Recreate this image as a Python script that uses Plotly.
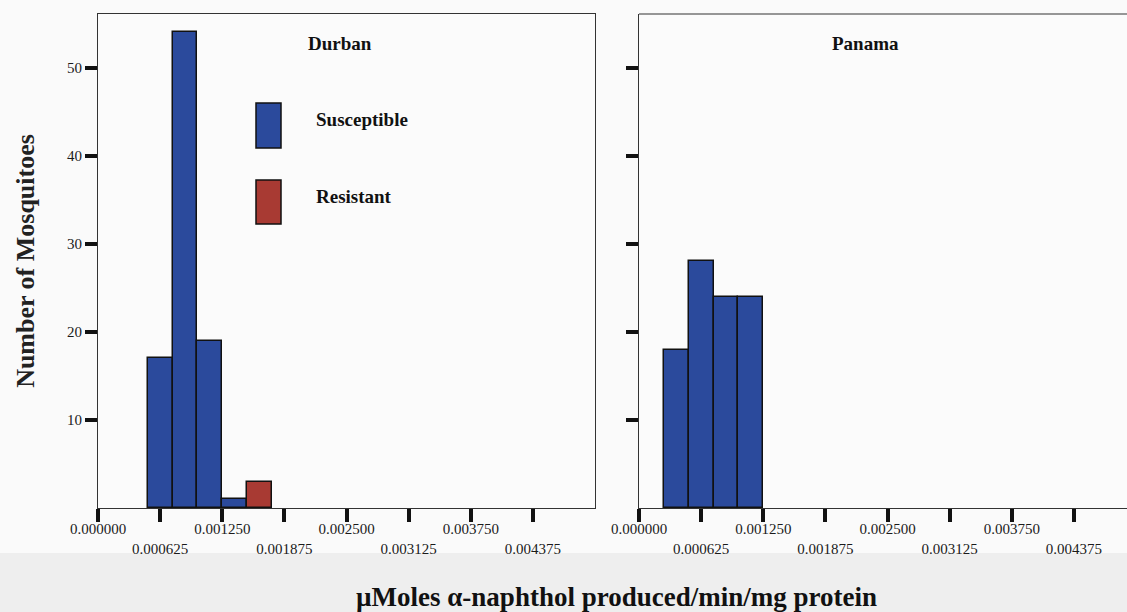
import plotly.graph_objects as go

# ---- data ----
bin_width = 0.00025
durban_susc_edges = [0.0005, 0.00075, 0.001, 0.00125]
durban_susc_counts = [17, 54, 19, 1]
durban_res_edges = [0.0015]
durban_res_counts = [3]
panama_susc_edges = [0.00025, 0.0005, 0.00075, 0.001]
panama_susc_counts = [18, 28, 24, 24]

x_tick_vals = [0.0, 0.000625, 0.00125, 0.001875, 0.0025, 0.003125, 0.00375, 0.004375]
x_tick_text = ["0.000000", "0.000625", "0.001250", "0.001875",
               "0.002500", "0.003125", "0.003750", "0.004375"]
y_tick_vals = [10, 20, 30, 40, 50]
panel_titles = ["Durban", "Panama"]
legend_labels = ["Susceptible", "Resistant"]

BLUE = "#2b4a9c"
RED = "#a83a33"
FONT = "Liberation Serif"

W, H = 1127, 612
def px(x):
    return x / W
def py(y):
    return 1 - y / H

staggered = [t if i % 2 == 0 else "<br>" + t for i, t in enumerate(x_tick_text)]

fig = go.Figure()

def centers(edges):
    return [e + bin_width / 2 for e in edges]

bar_line = dict(color="#111111", width=1.5)
fig.add_trace(go.Bar(x=centers(durban_susc_edges), y=durban_susc_counts, width=bin_width,
                     marker=dict(color=BLUE, line=bar_line), xaxis="x", yaxis="y",
                     name=legend_labels[0], showlegend=False))
fig.add_trace(go.Bar(x=centers(durban_res_edges), y=durban_res_counts, width=bin_width,
                     marker=dict(color=RED, line=bar_line), xaxis="x", yaxis="y",
                     name=legend_labels[1], showlegend=False))
fig.add_trace(go.Bar(x=centers(panama_susc_edges), y=panama_susc_counts, width=bin_width,
                     marker=dict(color=BLUE, line=bar_line), xaxis="x2", yaxis="y2",
                     name=legend_labels[0], showlegend=False))

y_dom = [py(508), py(14)]
xcommon = dict(tickvals=x_tick_vals, ticktext=staggered, ticks="outside", ticklen=13,
               tickwidth=4, tickcolor="#111111", showgrid=False, zeroline=False,
               showline=True, linecolor="#333333", linewidth=1, automargin=False,
               ticklabelstandoff=-6,
               tickfont=dict(family=FONT, size=15, color="#1a1a1a"), fixedrange=True)
fig.update_layout(
    width=W, height=H, margin=dict(l=0, r=0, t=0, b=0, autoexpand=False),
    paper_bgcolor="#fafafa", plot_bgcolor="#fbfbfb",
    barmode="overlay", bargap=0,
    xaxis=dict(domain=[px(98), px(595)], range=[0, 0.005], mirror=True, anchor="y", **xcommon),
    xaxis2=dict(domain=[px(639), 1.0], range=[0, 0.005 * (W - 639) / (595 - 98)],
                mirror=False, anchor="y2", **xcommon),
    yaxis=dict(domain=y_dom, range=[0, 56.1], tickvals=y_tick_vals, ticks="outside",
               ticklen=12, tickwidth=4, tickcolor="#111111", showgrid=False, zeroline=False,
               showline=True, mirror=True, linecolor="#333333", linewidth=1, anchor="x",
               automargin=False,
               tickfont=dict(family=FONT, size=15, color="#1a1a1a"),
               title=dict(text="<b>Number of Mosquitoes</b>", standoff=24,
                          font=dict(family=FONT, size=26, color="#222222")),
               fixedrange=True),
    yaxis2=dict(domain=y_dom, range=[0, 56.1], tickvals=y_tick_vals, ticks="outside",
                ticklen=12, tickwidth=4, tickcolor="#111111", showticklabels=False,
                showgrid=False, zeroline=False, showline=True, mirror=False, automargin=False,
                linecolor="#333333", linewidth=1, anchor="x2", fixedrange=True),
    showlegend=False,
)

# top frame line of Panama panel (right edge cut off)
fig.add_shape(type="line", xref="paper", yref="paper", x0=px(639), x1=1.0,
              y0=py(14), y1=py(14), line=dict(color="#333333", width=1))
# grey band at bottom
fig.add_shape(type="rect", xref="paper", yref="paper", x0=0, x1=1, y0=0, y1=py(553),
              fillcolor="#eeeeee", line=dict(width=0), layer="below")

def label(x, y, text, size, xanchor="center"):
    fig.add_annotation(x=px(x), y=py(y), xref="paper", yref="paper", xanchor=xanchor,
                       yanchor="middle", text="<b>" + text + "</b>", showarrow=False,
                       font=dict(family=FONT, size=size, color="#111111"))

# panel titles
label(340, 44, panel_titles[0], 19)
label(865, 44, panel_titles[1], 19)

# legend swatches and labels inside Durban panel
fig.add_shape(type="rect", xref="paper", yref="paper", x0=px(256), x1=px(281),
              y0=py(148), y1=py(103), fillcolor=BLUE, line=dict(color="#111111", width=1.5))
fig.add_shape(type="rect", xref="paper", yref="paper", x0=px(256), x1=px(281),
              y0=py(224), y1=py(180), fillcolor=RED, line=dict(color="#111111", width=1.5))
label(314, 120, legend_labels[0], 19, "left")
label(314, 197, legend_labels[1], 19, "left")

# x axis title (shared)
label(616, 597, "µMoles α-naphthol produced/min/mg protein", 27)

fig.write_html("out.html")
